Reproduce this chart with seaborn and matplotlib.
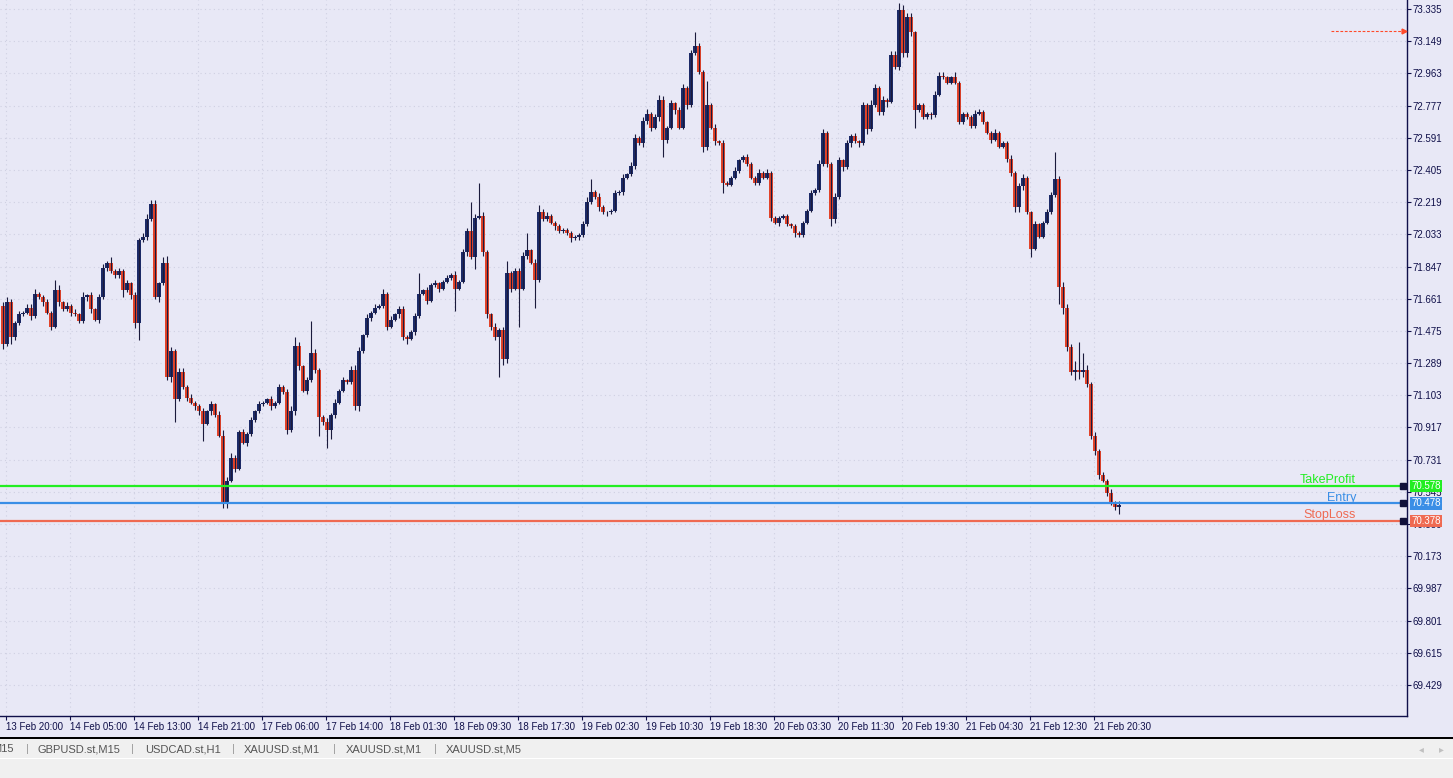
import numpy as np
import pandas as pd
import matplotlib
matplotlib.use("Agg")
import matplotlib.pyplot as plt
import matplotlib.transforms as mtransforms
from matplotlib.patches import Rectangle
import seaborn as sns

# M30 closes (open = previous close)
first_open = 71.62
close = [
    71.40, 71.64, 71.44, 71.52, 71.57, 71.58, 71.61, 71.56, 71.69, 71.67, 71.64, 71.58, 71.50, 71.71, 71.64, 71.60, 71.62, 71.58, 71.57, 71.53,
    71.67, 71.68, 71.60, 71.54, 71.67, 71.84, 71.87, 71.82, 71.80, 71.82, 71.71, 71.75, 71.68, 71.52, 72.00, 72.02, 72.12, 72.21, 71.67, 71.75,
    71.87, 71.21, 71.36, 71.08, 71.24, 71.15, 71.09, 71.06, 71.04, 71.01, 70.94, 71.01, 71.05, 70.99, 70.87, 70.48, 70.61, 70.74, 70.68, 70.89,
    70.83, 70.88, 70.96, 71.01, 71.05, 71.06, 71.08, 71.04, 71.06, 71.15, 71.12, 70.90, 71.01, 71.39, 71.27, 71.13, 71.19, 71.35, 71.25, 70.98,
    70.95, 70.90, 70.99, 71.06, 71.13, 71.19, 71.18, 71.25, 71.04, 71.36, 71.45, 71.55, 71.58, 71.61, 71.62, 71.69, 71.50, 71.54, 71.57, 71.60,
    71.44, 71.43, 71.47, 71.56, 71.69, 71.71, 71.65, 71.74, 71.75, 71.72, 71.76, 71.78, 71.80, 71.72, 71.76, 71.93, 72.05, 71.90, 72.13, 72.14,
    71.93, 71.57, 71.50, 71.44, 71.48, 71.31, 71.81, 71.72, 71.82, 71.72, 71.91, 71.94, 71.87, 71.77, 72.16, 72.12, 72.14, 72.10, 72.08, 72.05,
    72.06, 72.04, 72.01, 72.02, 72.03, 72.09, 72.22, 72.28, 72.25, 72.19, 72.16, 72.16, 72.17, 72.27, 72.28, 72.36, 72.38, 72.43, 72.59, 72.56,
    72.69, 72.73, 72.65, 72.71, 72.81, 72.58, 72.65, 72.79, 72.75, 72.65, 72.88, 72.78, 73.08, 73.12, 72.97, 72.54, 72.78, 72.65, 72.57, 72.56,
    72.33, 72.32, 72.36, 72.40, 72.46, 72.48, 72.44, 72.36, 72.33, 72.39, 72.36, 72.39, 72.13, 72.10, 72.13, 72.14, 72.09, 72.08, 72.04, 72.03,
    72.10, 72.17, 72.27, 72.29, 72.44, 72.62, 72.44, 72.12, 72.25, 72.46, 72.42, 72.56, 72.60, 72.57, 72.56, 72.78, 72.64, 72.78, 72.88, 72.74,
    72.81, 72.80, 73.07, 73.00, 73.33, 73.08, 73.29, 73.20, 72.75, 72.78, 72.71, 72.73, 72.72, 72.84, 72.95, 72.94, 72.91, 72.94, 72.91, 72.68,
    72.73, 72.71, 72.66, 72.73, 72.74, 72.68, 72.62, 72.58, 72.62, 72.54, 72.56, 72.47, 72.39, 72.19, 72.31, 72.36, 72.16, 71.95, 72.09, 72.02,
    72.10, 72.16, 72.26, 72.35, 71.73, 71.61, 71.38, 71.24, 71.25, 71.24, 71.25, 71.17, 70.87, 70.78, 70.64, 70.61, 70.54, 70.48, 70.46, 70.47,
]
# wick lengths above / below the body, in hundredths
wick_hi = [
    2, 3, 2, 1, 2, 1, 2, 2, 3, 1, 1, 2, 1, 6, 3, 1, 2, 1, 2, 1,
    3, 1, 2, 1, 2, 2, 1, 3, 1, 2, 1, 2, 1, 2, 1, 2, 3, 2, 2, 1,
    3, 4, 2, 1, 2, 2, 1, 2, 1, 1, 2, 1, 2, 1, 2, 3, 2, 3, 2, 1,
    2, 1, 2, 1, 2, 1, 1, 2, 1, 2, 1, 2, 3, 5, 2, 1, 2, 18, 2, 1,
    1, 2, 1, 2, 1, 2, 1, 2, 3, 2, 1, 2, 1, 2, 1, 3, 1, 2, 1, 2,
    2, 1, 1, 2, 12, 1, 2, 1, 2, 1, 1, 2, 1, 2, 1, 2, 2, 17, 2, 19,
    2, 1, 1, 2, 1, 2, 7, 1, 2, 2, 2, 10, 1, 2, 4, 2, 2, 1, 1, 1,
    1, 1, 1, 1, 1, 2, 3, 7, 1, 2, 1, 1, 1, 2, 1, 2, 1, 2, 2, 1,
    2, 3, 1, 2, 3, 2, 1, 2, 1, 2, 2, 1, 2, 8, 2, 1, 14, 1, 2, 1,
    2, 1, 1, 2, 1, 1, 2, 1, 1, 2, 1, 2, 1, 1, 1, 1, 1, 1, 1, 1,
    1, 1, 2, 1, 2, 2, 1, 1, 2, 2, 1, 2, 1, 2, 1, 2, 1, 3, 2, 1,
    2, 1, 2, 2, 4, 3, 2, 2, 1, 1, 1, 1, 1, 2, 2, 2, 1, 1, 3, 1,
    1, 1, 1, 2, 2, 1, 1, 1, 2, 1, 1, 1, 2, 1, 2, 2, 1, 1, 2, 1,
    1, 2, 2, 16, 2, 3, 2, 2, 5, 16, 10, 3, 1, 2, 1, 2, 1, 2, 1, 2,
]
wick_lo = [
    3, 1, 4, 2, 1, 1, 1, 2, 1, 1, 2, 1, 2, 1, 2, 1, 1, 2, 1, 1,
    1, 2, 2, 1, 2, 1, 2, 1, 2, 2, 4, 1, 2, 3, 10, 1, 2, 1, 1, 3,
    1, 2, 3, 13, 1, 1, 2, 1, 2, 2, 10, 1, 2, 1, 1, 3, 3, 1, 2, 1,
    1, 2, 1, 1, 1, 1, 1, 2, 1, 1, 1, 2, 1, 2, 2, 1, 2, 1, 2, 11,
    2, 10, 5, 2, 1, 1, 1, 1, 2, 3, 1, 1, 2, 1, 1, 1, 2, 1, 1, 2,
    2, 3, 1, 2, 1, 1, 2, 1, 1, 2, 1, 1, 1, 13, 1, 1, 2, 1, 7, 1,
    2, 2, 2, 2, 23, 3, 2, 2, 1, 22, 1, 2, 1, 16, 1, 1, 1, 1, 2, 1,
    1, 1, 2, 1, 2, 1, 1, 1, 1, 2, 1, 2, 1, 1, 1, 2, 1, 1, 2, 1,
    2, 2, 2, 1, 2, 10, 2, 1, 2, 1, 1, 2, 1, 1, 1, 3, 2, 1, 2, 1,
    6, 1, 1, 1, 1, 1, 1, 1, 1, 1, 1, 1, 2, 1, 2, 1, 1, 1, 2, 1,
    1, 1, 1, 1, 1, 1, 2, 4, 2, 1, 2, 1, 2, 1, 2, 1, 3, 1, 1, 2,
    2, 3, 1, 1, 2, 2, 2, 2, 10, 1, 1, 1, 2, 1, 1, 1, 1, 1, 1, 1,
    1, 1, 1, 1, 1, 1, 1, 2, 1, 1, 1, 2, 2, 3, 3, 2, 1, 5, 1, 1,
    1, 1, 1, 1, 10, 4, 2, 2, 5, 4, 3, 2, 2, 2, 2, 1, 2, 1, 2, 4,
]

x_labels = ["13 Feb 20:00", "14 Feb 05:00", "14 Feb 13:00", "14 Feb 21:00", "17 Feb 06:00", "17 Feb 14:00",
            "18 Feb 01:30", "18 Feb 09:30", "18 Feb 17:30", "19 Feb 02:30", "19 Feb 10:30", "19 Feb 18:30",
            "20 Feb 03:30", "20 Feb 11:30", "20 Feb 19:30", "21 Feb 04:30", "21 Feb 12:30", "21 Feb 20:30"]
y_ticks = [73.335, 73.149, 72.963, 72.777, 72.591, 72.405, 72.219, 72.033, 71.847, 71.661, 71.475,
           71.289, 71.103, 70.917, 70.731, 70.545, 70.359, 70.173, 69.987, 69.801, 69.615, 69.429]

level_names = ["TakeProfit", "Entry", "StopLoss"]
level_prices = [70.578, 70.478, 70.378]
level_colors = ["#22ee22", "#3a8ee6", "#ef6a52"]
alert_price = 73.208

tabs = ["M15", "GBPUSD.st,M15", "USDCAD.st,H1", "XAUUSD.st,M1", "XAUUSD.st,M1", "XAUUSD.st,M5"]

BG = "#e8e8f6"
sns.set_theme(style="white", rc={"axes.facecolor": BG, "figure.facecolor": BG})
plt.rcParams["font.family"] = ["Liberation Sans", "DejaVu Sans"]

df = pd.DataFrame({"close": close})
df["open"] = df["close"].shift(1).fillna(first_open)
df["high"] = df[["open", "close"]].max(axis=1) + np.array(wick_hi) / 100
df["low"] = df[["open", "close"]].min(axis=1) - np.array(wick_lo) / 100
df["x"] = np.arange(len(df))
up = df["close"] >= df["open"]

W, H = 1453, 778
fig = plt.figure(figsize=(W / 100, H / 100), dpi=100)
ax = fig.add_axes([0, 62 / H, 1407 / W, 716 / H])
ax.set_xlim(-0.75, -0.75 + 1407 / 4)
ax.set_ylim(69.250, 73.387)

# grid
xt = 0.75 + 16 * np.arange(len(x_labels))
ax.set_xticks(xt)
ax.set_xticklabels(x_labels)
ax.set_yticks(y_ticks)
ax.set_yticklabels([f"{v:.3f}" for v in y_ticks])
ax.grid(True, color="#cfd0e2", linestyle=(0, (1, 3)), linewidth=0.8)
ax.set_axisbelow(True)

# candles
red, navy, wick = "#e2432a", "#1c2a68", "#1a1a3c"
body_lo = df[["open", "close"]].min(axis=1)
body_h = (df["close"] - df["open"]).abs().clip(lower=0.004)
ax.bar(df["x"][~up], body_h[~up], bottom=body_lo[~up], width=0.78, color=red, linewidth=0, zorder=3)
ax.bar(df["x"][up], body_h[up], bottom=body_lo[up], width=0.78, color=navy, linewidth=0, zorder=3)
ax.vlines(df["x"], df["low"], df["high"], color=wick, linewidth=0.8, zorder=4)

# trade levels
x_end = -0.75 + 1403 / 4
x_lbl = -0.75 + 1356 / 4
tag_tr = mtransforms.blended_transform_factory(ax.transAxes, ax.transData)
for name, p, c in zip(level_names, level_prices, level_colors):
    ax.plot([-0.75, x_end], [p, p], color=c, linewidth=1.6, zorder=5, solid_capstyle="butt")
    ax.plot([x_end], [p], marker="s", markersize=4, color="#10103a", zorder=6, clip_on=False)
    ax.text(x_lbl, p + 0.016, name, ha="right", va="baseline", color=c, fontsize=9, zorder=6)
    ax.text(1411 / 1407, p, f"{p:.3f}", transform=tag_tr, ha="left", va="center", color="white",
            fontsize=7, zorder=10, clip_on=False,
            bbox=dict(boxstyle="square,pad=0.12", fc=c, ec="none"))

# alert arrow
ax.plot([-0.75 + 1331 / 4, -0.75 + 1403 / 4], [alert_price, alert_price], color="#ff4a2a",
        linestyle=(0, (2.5, 1.5)), linewidth=0.8, zorder=5)
ax.plot([-0.75 + 1404 / 4], [alert_price], marker=">", markersize=3.5, color="#ff4a2a", zorder=6, clip_on=False)

# axes styling
sns.despine(ax=ax, left=True, top=True, right=False, bottom=False)
for s in ["right", "bottom"]:
    ax.spines[s].set_color("#10104a")
    ax.spines[s].set_linewidth(1.0)
ax.yaxis.tick_right()
ax.tick_params(axis="y", right=True, left=False, labelright=True, labelleft=False, direction="out",
               length=3, width=0.8, pad=1, labelsize=7, colors="#10104a")
ax.tick_params(axis="x", bottom=True, direction="out", length=3, width=0.8, pad=1.5,
               labelsize=7, colors="#10104a")
for lbl in ax.get_xticklabels():
    lbl.set_horizontalalignment("left")
ax.set_xlabel("")
ax.set_ylabel("")

# tab bar
fig.patches.append(Rectangle((0, 0), 1, 40 / H, transform=fig.transFigure, fc="#f0f0f0", ec="none", zorder=0))
fig.patches.append(Rectangle((0, 39 / H), 1, 1.6 / H, transform=fig.transFigure, fc="#000000", ec="none", zorder=1))
fig.patches.append(Rectangle((0, 19 / H), 1, 1.2 / H, transform=fig.transFigure, fc="#ffffff", ec="none", zorder=1))
tab_x = [-8, 38, 145, 244, 346, 446]
sep_x = [27, 132, 233, 334, 435]
ty = (H - 749) / H
for tx, t in zip(tab_x, tabs):
    fig.text(tx / W, ty, t, ha="left", va="center", fontsize=8, color="#555555")
for sx in sep_x:
    fig.text(sx / W, ty, "|", ha="center", va="center", fontsize=8, color="#9a9a9a")
fig.text(1421 / W, ty, "◂", ha="center", va="center", fontsize=7, color="#c0c0c0", family="DejaVu Sans")
fig.text(1441 / W, ty, "▸", ha="center", va="center", fontsize=7, color="#c0c0c0", family="DejaVu Sans")

fig.savefig("out.png", dpi=100, facecolor=BG)
